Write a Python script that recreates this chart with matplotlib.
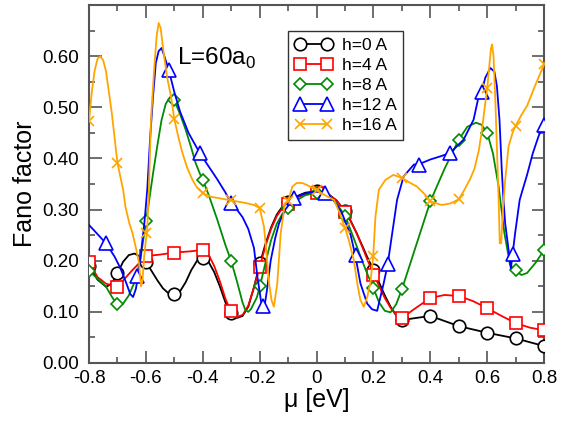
import numpy as np
import matplotlib
matplotlib.use("Agg")
import matplotlib.pyplot as plt
from matplotlib.lines import Line2D

plt.rcParams['font.family'] = ['Liberation Sans', 'DejaVu Sans']
plt.rcParams['mathtext.fontset'] = 'custom'
plt.rcParams['mathtext.rm'] = 'Liberation Sans'

# marker positions (mu grid) for h=0,4,8,16
mu_pts = [-0.8, -0.7, -0.6, -0.5, -0.4, -0.3, -0.2, -0.1, 0.0,
          0.1, 0.2, 0.3, 0.4, 0.5, 0.6, 0.7, 0.8]
h0_pts = [0.190, 0.175, 0.198, 0.134, 0.205, 0.097, 0.196, 0.314, 0.336,
          0.297, 0.182, 0.084, 0.092, 0.072, 0.059, 0.048, 0.033]
h4_pts = [0.198, 0.149, 0.209, 0.216, 0.221, 0.102, 0.187, 0.311, 0.333,
          0.295, 0.172, 0.088, 0.128, 0.131, 0.107, 0.078, 0.064]
h8_pts = [0.180, 0.115, 0.278, 0.515, 0.358, 0.199, 0.150, 0.304, 0.333,
          0.288, 0.146, 0.144, 0.316, 0.437, 0.450, 0.182, 0.221]
h16_pts = [0.473, 0.392, 0.254, 0.477, 0.332, 0.318, 0.303, 0.316, 0.338,
           0.264, 0.209, 0.362, 0.316, 0.320, 0.538, 0.464, 0.584]
# h=12 markers sit on their own grid
mu12_pts = [-0.74, -0.63, -0.52, -0.41, -0.30, -0.19, -0.08, 0.03,
            0.14, 0.25, 0.36, 0.47, 0.58, 0.69, 0.80]
h12_pts = [0.234, 0.170, 0.574, 0.410, 0.312, 0.111, 0.322, 0.332,
           0.211, 0.193, 0.388, 0.411, 0.530, 0.214, 0.466]

# smooth curves
h0_x = [-0.8, -0.77, -0.74, -0.72, -0.70, -0.68, -0.66, -0.64, -0.62, -0.60,
        -0.58, -0.56, -0.54, -0.52, -0.50, -0.48, -0.46, -0.44, -0.42, -0.40,
        -0.38, -0.36, -0.34, -0.32, -0.30, -0.28, -0.26, -0.24, -0.22, -0.20,
        -0.18, -0.16, -0.14, -0.12, -0.10, -0.07, -0.04, 0.0, 0.04, 0.07,
        0.10, 0.12, 0.14, 0.16, 0.18, 0.20, 0.22, 0.24, 0.26, 0.28,
        0.30, 0.4, 0.5, 0.6, 0.7, 0.8]
h0_y = [0.190, 0.163, 0.149, 0.155, 0.175, 0.198, 0.211, 0.214, 0.208, 0.198,
        0.180, 0.162, 0.146, 0.136, 0.133, 0.140, 0.158, 0.182, 0.200, 0.206,
        0.198, 0.178, 0.150, 0.118, 0.095, 0.088, 0.092, 0.110, 0.148, 0.193,
        0.232, 0.265, 0.290, 0.306, 0.316, 0.326, 0.333, 0.336, 0.331, 0.318,
        0.297, 0.278, 0.255, 0.230, 0.205, 0.182, 0.157, 0.132, 0.110, 0.093,
        0.084, 0.092, 0.072, 0.059, 0.048, 0.033]

h4_x = [-0.8, -0.77, -0.74, -0.70, -0.65, -0.60, -0.55, -0.50, -0.45, -0.40,
        -0.38, -0.36, -0.34, -0.32, -0.30, -0.28, -0.26, -0.24, -0.22, -0.20,
        -0.18, -0.16, -0.14, -0.12, -0.10, -0.07, -0.04, 0.0, 0.04, 0.07,
        0.10, 0.12, 0.14, 0.16, 0.18, 0.20, 0.22, 0.24, 0.26, 0.28,
        0.30, 0.35, 0.40, 0.45, 0.50, 0.55, 0.60, 0.65, 0.70, 0.75, 0.80]
h4_y = [0.198, 0.168, 0.155, 0.149, 0.180, 0.209, 0.212, 0.216, 0.218, 0.221,
        0.212, 0.190, 0.160, 0.125, 0.100, 0.090, 0.094, 0.112, 0.148, 0.187,
        0.228, 0.262, 0.287, 0.303, 0.312, 0.323, 0.330, 0.334, 0.330, 0.318,
        0.295, 0.277, 0.255, 0.228, 0.200, 0.175, 0.150, 0.127, 0.108, 0.094,
        0.088, 0.108, 0.127, 0.133, 0.131, 0.121, 0.107, 0.092, 0.078, 0.069,
        0.064]

h8_x = [-0.80, -0.77, -0.74, -0.72, -0.70, -0.68, -0.66, -0.64, -0.62, -0.60,
        -0.59, -0.575, -0.56, -0.545, -0.53, -0.515, -0.50, -0.48, -0.46, -0.44,
        -0.425, -0.41, -0.40, -0.38, -0.35, -0.32, -0.30, -0.28, -0.26, -0.25,
        -0.24, -0.23, -0.21, -0.20, -0.18, -0.16, -0.14, -0.12, -0.10, -0.07,
        -0.04, 0.00, 0.04, 0.07, 0.10, 0.13, 0.16, 0.18, 0.20, 0.22,
        0.24, 0.26, 0.28, 0.30, 0.35, 0.40, 0.45, 0.50, 0.53, 0.56,
        0.58, 0.60, 0.62, 0.64, 0.66, 0.68, 0.70, 0.72, 0.74, 0.77, 0.80]
h8_y = [0.180, 0.165, 0.149, 0.130, 0.113, 0.116, 0.132, 0.158, 0.200, 0.275,
        0.312, 0.370, 0.424, 0.475, 0.507, 0.520, 0.514, 0.487, 0.456, 0.420,
        0.391, 0.370, 0.358, 0.330, 0.282, 0.230, 0.199, 0.160, 0.118, 0.103,
        0.100, 0.106, 0.128, 0.148, 0.195, 0.240, 0.272, 0.292, 0.304, 0.318,
        0.328, 0.333, 0.328, 0.312, 0.288, 0.245, 0.200, 0.172, 0.146, 0.118,
        0.102, 0.099, 0.115, 0.144, 0.230, 0.316, 0.380, 0.437, 0.462, 0.470,
        0.466, 0.450, 0.410, 0.345, 0.255, 0.192, 0.180, 0.172, 0.176, 0.196,
        0.221]

h12_x = [-0.80, -0.77, -0.74, -0.71, -0.69, -0.67, -0.655, -0.645, -0.635, -0.625,
         -0.615, -0.605, -0.595, -0.585, -0.575, -0.565, -0.555, -0.545, -0.535, -0.52,
         -0.50, -0.48, -0.45, -0.41, -0.38, -0.35, -0.32, -0.30, -0.28, -0.26,
         -0.24, -0.22, -0.208, -0.195, -0.185, -0.175, -0.161, -0.145, -0.132, -0.11,
         -0.08, -0.05, -0.02, 0.00, 0.03, 0.06, 0.09, 0.12, 0.137, 0.154,
         0.178, 0.195, 0.213, 0.236, 0.25, 0.266, 0.283, 0.306, 0.342, 0.365,
         0.40, 0.44, 0.47, 0.517, 0.552, 0.57, 0.58, 0.593, 0.611, 0.625,
         0.634, 0.643, 0.651, 0.657, 0.663, 0.675, 0.683, 0.698, 0.714, 0.725,
         0.74, 0.76, 0.78, 0.80]
h12_y = [0.270, 0.252, 0.234, 0.208, 0.186, 0.158, 0.135, 0.129, 0.145, 0.180,
         0.225, 0.275, 0.340, 0.440, 0.520, 0.587, 0.610, 0.616, 0.600, 0.574,
         0.530, 0.492, 0.450, 0.410, 0.385, 0.360, 0.333, 0.312, 0.300, 0.285,
         0.262, 0.225, 0.169, 0.120, 0.103, 0.140, 0.201, 0.245, 0.273, 0.300,
         0.322, 0.330, 0.334, 0.335, 0.332, 0.319, 0.292, 0.250, 0.208, 0.156,
         0.116, 0.105, 0.102, 0.156, 0.193, 0.254, 0.319, 0.365, 0.388, 0.390,
         0.398, 0.405, 0.411, 0.437, 0.476, 0.522, 0.530, 0.558, 0.577, 0.570,
         0.541, 0.476, 0.378, 0.319, 0.273, 0.221, 0.185, 0.254, 0.319, 0.340,
         0.368, 0.410, 0.443, 0.470]

h16_x = [-0.80, -0.79, -0.78, -0.77, -0.76, -0.75, -0.74, -0.72, -0.70, -0.69,
         -0.68, -0.672, -0.658, -0.647, -0.635, -0.624, -0.617, -0.612, -0.606, -0.600,
         -0.596, -0.590, -0.582, -0.571, -0.562, -0.555, -0.548, -0.536, -0.524, -0.512,
         -0.50, -0.485, -0.471, -0.455, -0.436, -0.42, -0.40, -0.37, -0.34, -0.30,
         -0.27, -0.25, -0.22, -0.20, -0.185, -0.177, -0.167, -0.158, -0.15, -0.138,
         -0.126, -0.111, -0.10, -0.085, -0.07, -0.05, -0.03, 0.00, 0.03, 0.061,
         0.08, 0.10, 0.113, 0.131, 0.143, 0.154, 0.166, 0.178, 0.189, 0.199,
         0.207, 0.219, 0.242, 0.27, 0.30, 0.33, 0.353, 0.38, 0.40, 0.44,
         0.47, 0.50, 0.52, 0.54, 0.555, 0.57, 0.58, 0.59, 0.60, 0.607,
         0.613, 0.617, 0.622, 0.628, 0.634, 0.640, 0.644, 0.649, 0.655, 0.663,
         0.675, 0.69, 0.70, 0.72, 0.74, 0.77, 0.80]
h16_y = [0.473, 0.530, 0.572, 0.595, 0.600, 0.592, 0.570, 0.490, 0.392, 0.365,
         0.339, 0.306, 0.273, 0.254, 0.225, 0.195, 0.150, 0.160, 0.208, 0.240,
         0.254, 0.330, 0.476, 0.574, 0.640, 0.665, 0.655, 0.600, 0.555, 0.522,
         0.477, 0.440, 0.410, 0.382, 0.358, 0.343, 0.332, 0.325, 0.322, 0.318,
         0.315, 0.313, 0.309, 0.303, 0.267, 0.221, 0.156, 0.122, 0.110, 0.156,
         0.254, 0.313, 0.316, 0.345, 0.352, 0.352, 0.347, 0.338, 0.328, 0.319,
         0.295, 0.264, 0.241, 0.201, 0.156, 0.123, 0.110, 0.129, 0.156, 0.208,
         0.286, 0.339, 0.358, 0.368, 0.362, 0.352, 0.345, 0.330, 0.316, 0.309,
         0.312, 0.320, 0.339, 0.360, 0.380, 0.415, 0.450, 0.495, 0.538, 0.580,
         0.615, 0.623, 0.600, 0.520, 0.420, 0.320, 0.234, 0.234, 0.300, 0.358,
         0.424, 0.452, 0.464, 0.485, 0.503, 0.545, 0.584]

x_ticks = [-0.8, -0.6, -0.4, -0.2, 0.0, 0.2, 0.4, 0.6, 0.8]
x_labels = ['-0.8', '-0.6', '-0.4', '-0.2', '0', '0.2', '0.4', '0.6', '0.8']
y_ticks = [0.0, 0.1, 0.2, 0.3, 0.4, 0.5, 0.6]
y_labels = ['0.00', '0.10', '0.20', '0.30', '0.40', '0.50', '0.60']

series = [
    ('h=0 A', 'black', 'o', 9.0, h0_x, h0_y, mu_pts, h0_pts),
    ('h=4 A', 'red', 's', 8.5, h4_x, h4_y, mu_pts, h4_pts),
    ('h=8 A', '#008b00', 'D', 6.3, h8_x, h8_y, mu_pts, h8_pts),
    ('h=12 A', 'blue', '^', 9.5, h12_x, h12_y, mu12_pts, h12_pts),
    ('h=16 A', 'orange', 'x', 7.5, h16_x, h16_y, mu_pts, h16_pts),
]

fig = plt.figure(figsize=(5.74, 4.26), dpi=100)
ax = fig.add_axes([0.155, 0.148, 0.793, 0.840])

handles = []
for i, (lab, col, mk, ms, cx, cy, px, py) in enumerate(series):
    z = 3 + i
    fc = 'white' if mk != 'x' else col
    ax.plot(cx, cy, color=col, lw=1.3, zorder=z)
    ax.plot(px, py, ls='none', marker=mk, ms=ms, mfc=fc,
            mec=col, mew=1.2, color=col, zorder=z)
    handles.append(Line2D([0], [0], color=col, lw=1.3, marker=mk, ms=ms,
                          mfc=fc, mec=col, mew=1.2))

ax.set_xlim(-0.8, 0.8)
ax.set_ylim(0.0, 0.70)
ax.set_xticks(x_ticks)
ax.set_xticklabels(x_labels)
ax.set_yticks(y_ticks)
ax.set_yticklabels(y_labels)
ax.set_xticks(np.arange(-0.8, 0.81, 0.1), minor=True)
ax.set_yticks(np.arange(0.0, 0.701, 0.05), minor=True)

spine_col = '#555555'
for s in ax.spines.values():
    s.set_color(spine_col)
    s.set_linewidth(1.5)
ax.tick_params(which='both', direction='in', top=True, right=True,
               color=spine_col, width=1.2, labelsize=13.5)
ax.tick_params(which='major', length=9, pad=5)
ax.tick_params(which='minor', length=4.5)
ax.tick_params(axis='y', which='major', pad=7)

ax.set_xlabel('μ [eV]', fontsize=18, labelpad=1)
ax.set_ylabel('Fano factor', fontsize=18, labelpad=4)

ax.text(-0.49, 0.584, r'L=60a$_\mathregular{0}$', fontsize=17.5, zorder=10)

leg = ax.legend(handles, [s[0] for s in series], loc='upper left',
                bbox_to_anchor=(0.437, 0.927), numpoints=2, fontsize=12.5,
                handlelength=2.15, handletextpad=0.55, labelspacing=0.28,
                borderpad=0.39, fancybox=False, framealpha=1, borderaxespad=0)
leg.get_frame().set_edgecolor('#333333')
leg.get_frame().set_linewidth(1.0)
leg.set_zorder(20)

fig.savefig('out.png', dpi=100)
